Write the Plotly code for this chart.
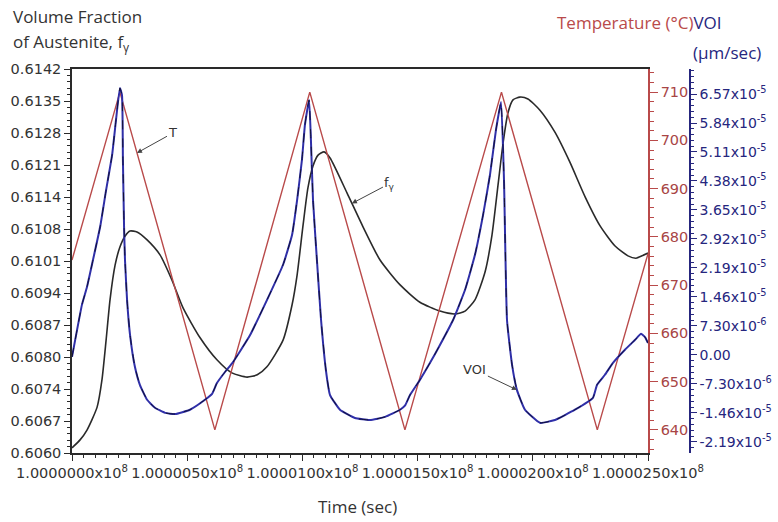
import plotly.graph_objects as go

T0 = 1.0e8  # time origin of the record, s

# Furnace temperature: turning points of the triangular cycle (time after T0, s / °C)
temp_t = [0.0, 20.8, 62.0, 103.2, 144.5, 186.4, 228.0, 250.0]
temp_c = [675.2, 710.0, 640.0, 710.0, 640.0, 710.0, 640.0, 676.5]

# Volume fraction of austenite
frac_t = [0.0, 3.5, 6.5, 10.9, 13.0, 14.8, 16.5, 18.7, 20.8, 23.0, 25.2, 28.2, 32.6,
          38.2, 43.4, 48.2, 55.6, 62.9, 69.4, 76.0, 80.4, 84.6, 91.6, 95.5, 97.7,
          100.3, 102.4, 104.6, 106.8, 109.4, 112.0, 119.4, 126.3, 133.7, 142.4,
          151.0, 159.7, 166.2, 170.6, 174.9, 179.3, 182.3, 184.9, 187.1, 189.2,
          191.4, 194.4, 197.9, 203.1, 209.6, 216.1, 222.7, 229.2, 235.7, 241.3,
          244.8, 247.4, 250.0]
frac_f = [0.60611, 0.60628, 0.60649, 0.60698, 0.60756, 0.60841, 0.60927, 0.61001,
          0.61040, 0.61063, 0.61074, 0.61072, 0.61055, 0.61023, 0.60969, 0.60910,
          0.60846, 0.60799, 0.60771, 0.60762, 0.60767, 0.60784, 0.60841, 0.60916,
          0.60980, 0.61087, 0.61166, 0.61213, 0.61236, 0.61243, 0.61230, 0.61155,
          0.61083, 0.61012, 0.60959, 0.60922, 0.60903, 0.60897, 0.60903, 0.60927,
          0.60987, 0.61066, 0.61172, 0.61262, 0.61326, 0.61354, 0.61360, 0.61356,
          0.61332, 0.61285, 0.61221, 0.61147, 0.61085, 0.61042, 0.61021, 0.61016,
          0.61021, 0.61027]

# Velocity of interface, in units of 1e-5 µm/sec
voi_t = [0.0, 2.2, 4.3, 6.5, 9.1, 12.2, 14.8, 17.4, 19.1, 20.8, 21.7, 22.1, 22.6, 23.0,
         23.9, 25.2, 27.3, 29.5, 32.6, 36.0, 40.4, 44.7, 51.2, 57.7, 60.8, 62.9, 66.4,
         69.9, 77.3, 84.6, 91.6, 95.5, 97.7, 99.8, 101.1, 102.9, 103.7, 104.6, 106.3,
         108.1, 110.2, 112.0, 116.3, 122.8, 129.3, 135.9, 142.4, 144.5, 146.7, 151.0,
         155.4, 159.7, 165.4, 170.6, 174.9, 178.4, 181.4, 184.0, 186.2, 187.5, 188.8,
         191.0, 193.1, 196.6, 203.1, 209.6, 218.3, 226.1, 227.9, 231.3, 234.8, 240.0,
         244.4, 247.0, 248.7, 250.0]
voi_e5 = [-0.05, 0.63, 1.26, 1.71, 2.39, 3.22, 4.15, 5.03, 5.92, 6.72, 6.54, 4.91, 3.22,
          2.39, 1.38, 0.50, -0.30, -0.76, -1.13, -1.33, -1.46, -1.49, -1.38, -1.13,
          -0.98, -0.71, -0.43, -0.18, 0.50, 1.38, 2.27, 3.02, 3.90, 4.91, 5.79, 6.42,
          5.41, 3.90, 2.39, 0.88, -0.38, -1.01, -1.38, -1.59, -1.64, -1.56, -1.38,
          -1.28, -1.01, -0.63, -0.20, 0.25, 0.88, 1.64, 2.52, 3.52, 4.53, 5.66, 6.37,
          4.40, 0.88, -0.25, -0.88, -1.38, -1.71, -1.64, -1.38, -1.08, -0.75, -0.50,
          -0.20, 0.13, 0.38, 0.53, 0.45, 0.30]

# Axis labels
time_ticks_s = [0, 50, 100, 150, 200, 250]
time_ticktext = ["1.0000000x10<sup>8</sup>", "1.0000050x10<sup>8</sup>",
                 "1.0000100x10<sup>8</sup>", "1.0000150x10<sup>8</sup>",
                 "1.0000200x10<sup>8</sup>", "1.0000250x10<sup>8</sup>"]
frac_ticktext = ["0.6060", "0.6067", "0.6074", "0.6080", "0.6087", "0.6094", "0.6101",
                 "0.6108", "0.6114", "0.6121", "0.6128", "0.6135", "0.6142"]
temp_ticks = [640, 650, 660, 670, 680, 690, 700, 710]
voi_ticktext = ["-2.19x10<sup>-5</sup>", "-1.46x10<sup>-5</sup>", "-7.30x10<sup>-6</sup>",
                "0.00", "7.30x10<sup>-6</sup>", "1.46x10<sup>-5</sup>",
                "2.19x10<sup>-5</sup>", "2.92x10<sup>-5</sup>", "3.65x10<sup>-5</sup>",
                "4.38x10<sup>-5</sup>", "5.11x10<sup>-5</sup>", "5.84x10<sup>-5</sup>",
                "6.57x10<sup>-5</sup>"]

RED = "#b94a4a"
NAVY = "#2f2fa8"
NAVY_TXT = "#26267e"
BLACK = "#2a2a2a"
TICK_FONT = dict(family="DejaVu Sans", size=14.5, color="#333333")

frac_lo, frac_hi = 0.6060, 0.6142
frac_step = (frac_hi - frac_lo) / 12
frac_tickvals = [frac_lo + i * frac_step for i in range(13)]
frac_minor = [frac_lo + i * frac_step / 5 for i in range(61)]
voi_step = 7.30e-6
voi_tickvals = [k * voi_step for k in range(-3, 10)]
voi_minor = [k * voi_step / 5 for k in range(-17, 50)]

fig = go.Figure()
fig.add_trace(go.Scatter(x=[T0 + t for t in temp_t], y=temp_c, yaxis="y2", mode="lines",
                         line=dict(color=RED, width=1.4)))
fig.add_trace(go.Scatter(x=[T0 + t for t in frac_t], y=frac_f, yaxis="y", mode="lines",
                         line=dict(color=BLACK, width=1.6, shape="spline", smoothing=0.6)))
voi_x = [T0 + t for t in voi_t]
voi_y = [v * 1e-5 for v in voi_e5]
fig.add_trace(go.Scatter(x=voi_x, y=voi_y, yaxis="y3", mode="lines",
                         line=dict(color=NAVY, width=2.0, shape="spline", smoothing=0.4)))
fig.add_trace(go.Scatter(x=voi_x, y=voi_y, yaxis="y3", mode="lines",
                         line=dict(color="#111133", width=1.0, dash="dash",
                                   shape="spline", smoothing=0.4)))

plot_w = 778 - 72 - 88
fig.update_layout(
    width=778, height=522,
    margin=dict(l=72, r=88, t=69, b=69, autoexpand=False),
    paper_bgcolor="white", plot_bgcolor="white",
    showlegend=False,
    xaxis=dict(
        domain=[0, 576 / plot_w], range=[T0, T0 + 250], automargin=False,
        tickmode="array", tickvals=[T0 + t for t in time_ticks_s], ticktext=time_ticktext,
        tickangle=0,
        ticks="outside", ticklen=6, tickwidth=1.2, tickcolor=BLACK,
        showline=True, linecolor=BLACK, linewidth=1.5, mirror=True,
        showgrid=False, zeroline=False,
        tickfont=dict(family="DejaVu Sans", size=14.5, color="#333333"),
        minor=dict(ticks="outside", ticklen=3, tickcolor=BLACK, tickmode="array",
                   tickvals=[T0 + 5 * i for i in range(51)], showgrid=False),
    ),
    yaxis=dict(
        range=[frac_lo, frac_hi], tickmode="array", tickvals=frac_tickvals,
        ticktext=frac_ticktext, ticks="outside", ticklen=6, tickwidth=1.2,
        automargin=False,
        tickcolor=BLACK, showline=True, linecolor=BLACK, linewidth=1.5,
        showgrid=False, zeroline=False, tickfont=TICK_FONT,
        minor=dict(ticks="outside", ticklen=3, tickcolor=BLACK, tickmode="array",
                   tickvals=frac_minor, showgrid=False),
    ),
    yaxis2=dict(
        overlaying="y", side="right", anchor="x", range=[635.2, 714.8],
        automargin=False,
        tickmode="array", tickvals=temp_ticks, ticks="outside", ticklen=8,
        tickwidth=1.2, tickcolor=RED, showline=True, linecolor=RED, linewidth=1.5,
        showgrid=False, zeroline=False,
        tickfont=dict(family="DejaVu Sans", size=14.5, color="#a84545"),
        minor=dict(ticks="outside", ticklen=4, tickcolor=RED, tickmode="array",
                   tickvals=[636 + 2 * i for i in range(40)], showgrid=False),
    ),
    yaxis3=dict(
        overlaying="y", side="right", anchor="free", position=1.0,
        automargin=False,
        range=[-2.47e-5, 7.20e-5], tickmode="array", tickvals=voi_tickvals,
        ticktext=voi_ticktext, ticks="outside", ticklen=6, tickwidth=1.2,
        tickcolor=NAVY_TXT, showline=True, linecolor=NAVY_TXT, linewidth=1.5,
        showgrid=False, zeroline=False,
        tickfont=dict(family="DejaVu Sans", size=14, color=NAVY_TXT),
        minor=dict(ticks="outside", ticklen=3, tickcolor=NAVY_TXT, tickmode="array",
                   tickvals=voi_minor, showgrid=False),
    ),
)

def px_x(px):
    return (px - 72) / plot_w

def px_y(py):
    return (453 - py) / 384

TITLE_FONT = dict(family="Open Sans", size=17, color="#333333")
fig.add_annotation(text="Volume Fraction", xref="paper", yref="paper", x=px_x(11),
                   y=px_y(16), xanchor="left", yanchor="middle", showarrow=False,
                   font=TITLE_FONT)
fig.add_annotation(text="of Austenite, f<sub>γ</sub>", xref="paper", yref="paper",
                   x=px_x(11), y=px_y(42), xanchor="left", yanchor="middle",
                   showarrow=False, font=TITLE_FONT)
fig.add_annotation(text=f"<span style='color:{RED}'>Temperature (°C)</span>"
                        f"<span style='color:{NAVY_TXT}'>VOI</span>",
                   xref="paper", yref="paper", x=px_x(724), y=px_y(22),
                   xanchor="right", yanchor="middle", showarrow=False,
                   font=dict(family="Open Sans", size=17, color=RED))
fig.add_annotation(text="(μm/sec)", xref="paper", yref="paper", x=px_x(727),
                   y=px_y(53), xanchor="center", yanchor="middle", showarrow=False,
                   font=dict(family="Open Sans", size=17, color=NAVY_TXT))
fig.add_annotation(text="Time (sec)", xref="paper", yref="paper", x=px_x(357),
                   y=px_y(506), xanchor="center", yanchor="middle", showarrow=False,
                   font=TITLE_FONT)

ARROW = dict(showarrow=True, arrowhead=2, arrowsize=1.0, arrowwidth=1.0,
             arrowcolor="#444444", font=dict(family="DejaVu Sans", size=13, color="#333333"))
fig.add_annotation(text="T", x=T0 + 28.2, y=697.4, xref="x", yref="y2",
                   ax=36, ay=-20, **ARROW)
fig.add_annotation(text="f<sub>γ</sub>", x=T0 + 121.5, y=0.61133, xref="x", yref="y",
                   ax=38, ay=-20, **ARROW)
fig.add_annotation(text="VOI", x=T0 + 193.1, y=-0.88e-5, xref="x", yref="y3",
                   ax=-42, ay=-20, **ARROW)

fig.write_html("out.html")
